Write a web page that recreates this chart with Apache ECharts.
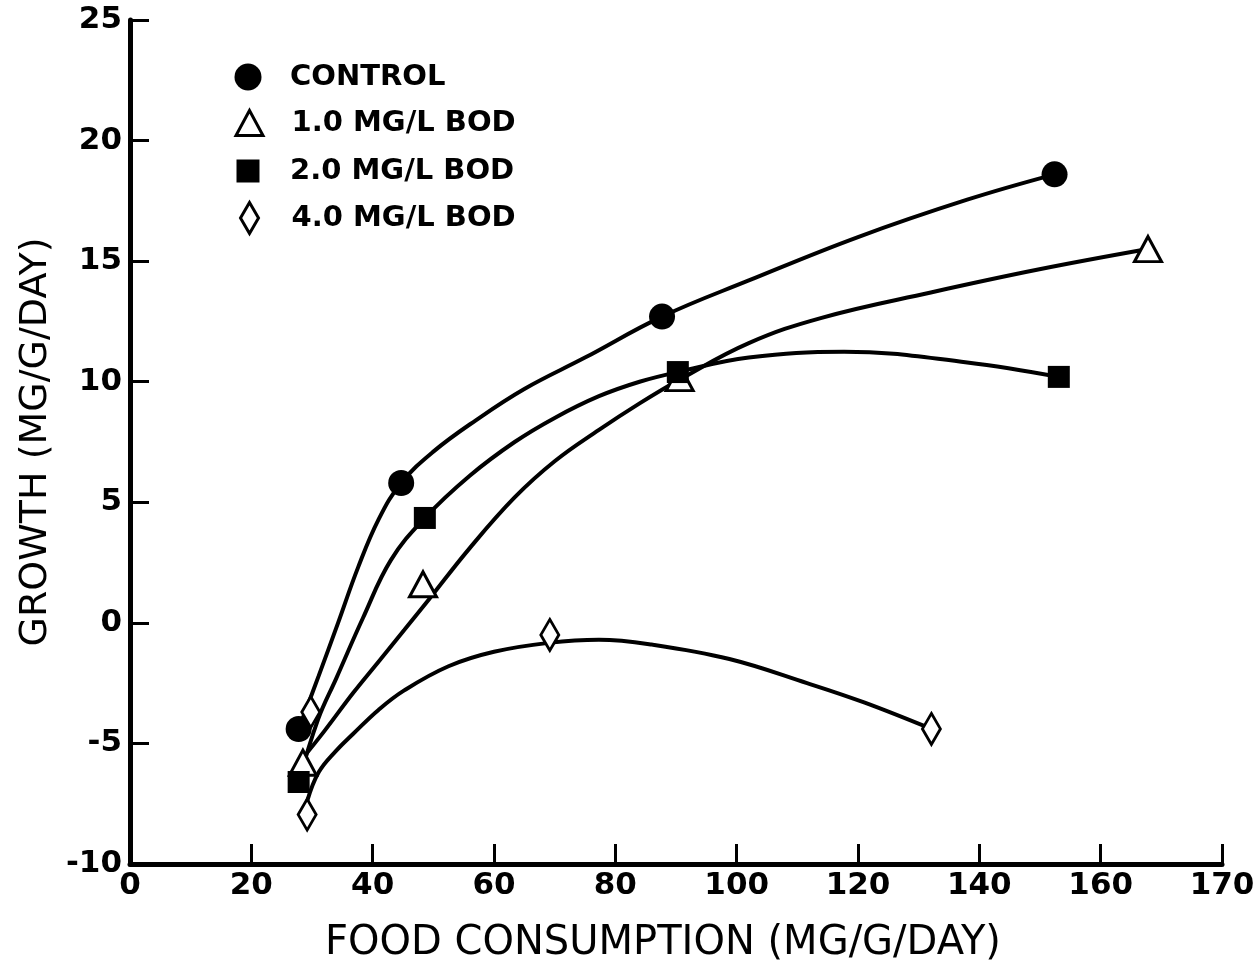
<!DOCTYPE html>
<html>
<head>
<meta charset="utf-8">
<script src="https://cdn.jsdelivr.net/npm/echarts@6/dist/echarts.min.js"></script>
<style>
html,body{margin:0;padding:0;background:#fff;}
#chart{width:1255px;height:962px;}
</style>
</head>
<body>
<div id="chart"></div>
<script>
// ---- data ----
const seriesNames = ['CONTROL', '1.0 MG/L BOD', '2.0 MG/L BOD', '4.0 MG/L BOD'];

// measured points (food consumption, growth)
const foodControl = [27.8, 44.7, 87.7, 152.4];
const growthControl = [-4.4, 5.8, 12.7, 18.6];
const food1 = [28.5, 48.3, 90.6, 167.8];
const growth1 = [-5.8, 1.6, 10.15, 15.5];
const food2 = [27.8, 48.6, 90.3, 153.1];
const growth2 = [-6.6, 4.35, 10.4, 10.2];
const food4 = [29.8, 29.2, 69.2, 132.1];
const growth4 = [-3.7, -7.95, -0.5, -4.4];

// hand-drawn fitted curves
const curveControlX = [27.8, 31.1, 34.3, 37.6, 41.0, 44.7, 50, 57, 65, 75, 87.7, 102, 120, 138, 152.4];
const curveControlY = [-4.4, -2.2, 0.0, 2.3, 4.3, 5.8, 7.1, 8.4, 9.7, 11.0, 12.7, 14.2, 16.0, 17.55, 18.6];
const curve1X = [28.5, 32, 36.8, 41, 45.2, 49.2, 56, 63.4, 70, 77.3, 84, 90.7, 102, 114, 132, 149.7, 167.8];
const curve1Y = [-5.6, -4.5, -2.9, -1.6, -0.3, 0.95, 3.1, 5.2, 6.7, 8.0, 9.1, 10.1, 11.6, 12.65, 13.7, 14.65, 15.5];
const curve2X = [27.8, 31, 34, 38.4, 43, 48.6, 56, 63.4, 70, 77.3, 84, 90.3, 102, 117.7, 138, 153.1];
const curve2Y = [-6.6, -4.0, -2.3, 0.2, 2.6, 4.35, 6.1, 7.5, 8.5, 9.4, 10.0, 10.4, 11.0, 11.24, 10.8, 10.2];
const curve4X = [29.2, 31.1, 34, 36.8, 41, 45.2, 52.5, 60, 69, 77.3, 86, 98.8, 111.6, 121, 132.1];
const curve4Y = [-7.4, -6.2, -5.3, -4.6, -3.6, -2.8, -1.8, -1.2, -0.83, -0.7, -0.9, -1.5, -2.5, -3.3, -4.4];

// axis ticks
const xTickValues = [0, 20, 40, 60, 80, 100, 120, 140, 160, 180];
const xTickLabels = ['0', '20', '40', '60', '80', '100', '120', '140', '160', '170'];
const yTickLabels = ['-10', '-5', '0', '5', '10', '15', '20', '25'];

// ---- build ----
const zip = (xs, ys) => xs.map((x, i) => [x, ys[i]]);
const FONT = 'DejaVu Sans';
const INK = '#000';

const curveStyle = { color: INK, width: 4 };
function curve(name, xs, ys) {
  return {
    type: 'line', name: name + ' fit', data: zip(xs, ys), smooth: 0.4,
    showSymbol: false, symbol: 'none', lineStyle: curveStyle, silent: true, z: 2
  };
}

const markerDefs = [
  { symbol: 'circle', size: 26, fill: INK, border: 0, w: 27, h: 27, cy: 72 },
  { symbol: 'triangle', size: [27, 25], fill: '#fff', border: 3, w: 27, h: 25, cy: 118 },
  { symbol: 'rect', size: 22, fill: INK, border: 0, w: 23, h: 23, cy: 166 },
  { symbol: 'diamond', size: [18, 31], fill: '#fff', border: 3, w: 18, h: 31, cy: 212 }
];
const pointSets = [
  zip(foodControl, growthControl), zip(food1, growth1), zip(food2, growth2), zip(food4, growth4)
];

const scatterSeries = seriesNames.map((n, i) => ({
  type: 'scatter', name: n, data: pointSets[i],
  symbol: markerDefs[i].symbol, symbolSize: markerDefs[i].size,
  itemStyle: { color: markerDefs[i].fill, borderColor: INK, borderWidth: markerDefs[i].border, opacity: 1 },
  z: 5
}));

const legends = seriesNames.map((n, i) => {
  const m = markerDefs[i];
  return {
    data: [{ name: n, icon: m.symbol }],
    left: 243 - m.w / 2, top: m.cy - 16,
    itemWidth: m.w, itemHeight: m.h,
    selectedMode: false,
    itemStyle: { color: m.fill, borderColor: INK, borderWidth: m.border },
    textStyle: { fontFamily: FONT, fontWeight: 'bold', fontSize: 29, color: INK, lineHeight: 32,
                 padding: [0, 0, 0, 42 - m.w / 2 - 5] }
  };
});

const option = {
  backgroundColor: '#fff',
  animation: false,
  grid: { left: 130, right: 33, top: 20, bottom: 98, containLabel: false, outerBoundsMode: 'none' },
  legend: legends,
  xAxis: {
    type: 'value', min: 0, max: 180, interval: 20,
    name: 'FOOD CONSUMPTION (MG/G/DAY)', nameLocation: 'middle', nameGap: 60,
    nameTextStyle: { fontFamily: FONT, fontSize: 40, color: INK, padding: [0, 26, 0, 0] },
    axisLine: { show: true, onZero: false, lineStyle: { color: INK, width: 5 } },
    axisTick: { show: true, inside: true, length: 20, lineStyle: { color: INK, width: 3 } },
    axisLabel: { margin: 6, fontFamily: FONT, fontWeight: 'bold', fontSize: 31, color: INK,
                 formatter: v => xTickLabels[xTickValues.indexOf(v)] },
    splitLine: { show: false }
  },
  yAxis: {
    type: 'value', min: -10, max: 25, interval: 5,
    name: 'GROWTH (MG/G/DAY)', nameLocation: 'middle', nameGap: 74,
    nameTextStyle: { fontFamily: FONT, fontSize: 38, color: INK },
    axisLine: { show: true, onZero: false, lineStyle: { color: INK, width: 5 } },
    axisTick: { show: true, inside: true, length: 19, lineStyle: { color: INK, width: 3 } },
    axisLabel: { margin: 8, fontFamily: FONT, fontWeight: 'bold', fontSize: 31, color: INK,
                 formatter: v => yTickLabels[(v + 10) / 5] },
    splitLine: { show: false }
  },
  series: [
    curve(seriesNames[0], curveControlX, curveControlY),
    curve(seriesNames[1], curve1X, curve1Y),
    curve(seriesNames[2], curve2X, curve2Y),
    curve(seriesNames[3], curve4X, curve4Y)
  ].concat(scatterSeries)
};

const chart = echarts.init(document.getElementById('chart'), null, { renderer: 'canvas' });
chart.setOption(option);
</script>
</body>
</html>
